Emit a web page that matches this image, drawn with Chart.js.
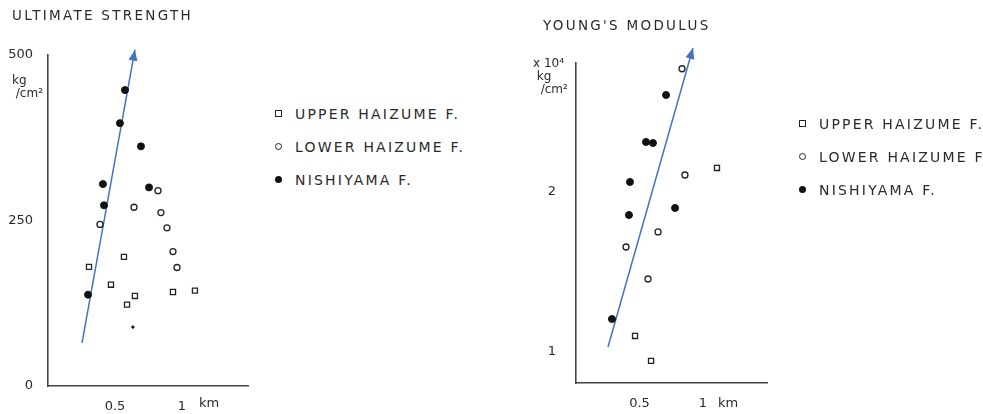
<!DOCTYPE html>
<html lang="en">
<head>
<meta charset="UTF-8">
<title>Ultimate strength / Young's modulus</title>
<script src="https://cdn.jsdelivr.net/npm/chart.js@4.4.1/dist/chart.umd.min.js"></script>
<style>
    body { margin: 0; background: #fff; width: 983px; height: 414px; position: relative; overflow: hidden;
           font-family: "DejaVu Sans", sans-serif; color: #2a2a2a; }
    canvas { position: absolute; top: 0; }
    .txt { position: absolute; white-space: nowrap; }
    .title { font-size: 13.5px; letter-spacing: 2.3px; }
    .unit { font-size: 12px; line-height: 13px; }
    .legend { position: absolute; font-size: 14px; letter-spacing: 2.2px; white-space: nowrap; }
    .legend div { height: 33px; display: flex; align-items: center; white-space: nowrap; }
    .mk { display: inline-block; box-sizing: border-box; margin-right: 13px; flex: none; }
    .sq { width: 7px; height: 7px; border: 1.4px solid #222; }
    .oc { width: 7px; height: 7px; border: 1.4px solid #222; border-radius: 50%; }
    .fc { width: 7px; height: 7px; background: #111; border-radius: 50%; }
</style>
</head>
<body>
<canvas id="strength" width="260" height="414" style="left:0;width:260px;height:414px"></canvas>
<canvas id="modulus" width="483" height="414" style="left:500px;width:483px;height:414px"></canvas>

<!-- titulos y unidades -->
<div class="txt title" style="left:12px;top:7px">ULTIMATE STRENGTH</div>
<div class="txt title" style="left:543px;top:17px">YOUNG'S MODULUS</div>
<div class="txt unit" style="left:12px;top:74px">kg<br>&nbsp;/cm²</div>
<div class="txt unit" style="left:533px;top:57px">x 10⁴<br>&nbsp;kg<br>&nbsp;&nbsp;/cm²</div>
<div class="txt unit" style="left:199px;top:396px;font-size:13px">km</div>
<div class="txt unit" style="left:718px;top:396px;font-size:13px">km</div>

<!-- leyendas -->
<div class="legend" style="left:275px;top:97px">
    <div><span class="mk sq"></span>UPPER HAIZUME F.</div>
    <div><span class="mk oc"></span>LOWER HAIZUME F.</div>
    <div><span class="mk fc"></span>NISHIYAMA F.</div>
</div>
<div class="legend" style="left:799px;top:107px">
    <div><span class="mk sq"></span>UPPER HAIZUME F.</div>
    <div><span class="mk oc"></span>LOWER HAIZUME F.</div>
    <div><span class="mk fc"></span>NISHIYAMA F.</div>
</div>

<script>
    // datos: distancia (km) y valor
    const strengthUpperKm = [0.567, 0.306, 0.470, 0.649, 0.590, 0.933, 1.097];
    const strengthUpper   = [195, 180, 153, 136, 123, 142, 144];
    const strengthLowerKm = [0.821, 0.642, 0.843, 0.388, 0.888, 0.933, 0.963];
    const strengthLower   = [295, 270, 262, 244, 239, 203, 179];
    const strengthNishiKm = [0.575, 0.537, 0.694, 0.410, 0.754, 0.418, 0.299, 0.634];
    const strengthNishi   = [447, 397, 362, 305, 300, 273, 138, 89];
    const strengthTrendKm = [0.254, 0.649];
    const strengthTrend   = [65, 508];
    const strengthTicks   = [0, 250, 500];

    const modulusUpperKm = [1.110, 0.465, 0.591];
    const modulusUpper   = [2.15, 1.10, 0.944];
    const modulusLowerKm = [0.835, 0.858, 0.646, 0.394, 0.567];
    const modulusLower   = [2.77, 2.106, 1.75, 1.656, 1.456];
    const modulusNishiKm = [0.709, 0.551, 0.606, 0.425, 0.417, 0.780, 0.283];
    const modulusNishi   = [2.606, 2.3125, 2.306, 2.0625, 1.856, 1.90, 1.206];
    const modulusTrendKm = [0.252, 0.921];
    const modulusTrend   = [1.031, 2.90];
    const modulusTicks   = [1, 2];

    const kmTicks = [0.5, 1];

    const pares = (xs, ys) => xs.map((x, i) => ({ x: x, y: ys[i] }));

    // punta de flecha al final de la linea azul
    const flecha = {
        id: 'flecha',
        afterDatasetsDraw(chart) {
            chart.data.datasets.forEach((ds, i) => {
                if (!ds.arrow) return;
                const pts = chart.getDatasetMeta(i).data;
                const a = pts[pts.length - 2], b = pts[pts.length - 1];
                const ang = Math.atan2(b.y - a.y, b.x - a.x);
                const ctx = chart.ctx;
                ctx.save();
                ctx.translate(b.x, b.y);
                ctx.rotate(ang);
                ctx.fillStyle = ds.borderColor;
                ctx.beginPath();
                ctx.moveTo(0, 0);
                ctx.lineTo(-11, -4.5);
                ctx.lineTo(-11, 4.5);
                ctx.closePath();
                ctx.fill();
                ctx.restore();
            });
        }
    };

    Chart.defaults.font.family = "'DejaVu Sans', sans-serif";
    Chart.defaults.color = '#2a2a2a';

    function crear(id, d, o) {
        new Chart(document.getElementById(id), {
            type: 'scatter',
            data: {
                datasets: [
                    {
                        label: 'UPPER HAIZUME F.',
                        data: pares(d.upperKm, d.upper),
                        pointStyle: 'rect',
                        pointRadius: 3.6,
                        backgroundColor: '#fff',
                        borderColor: '#222',
                        borderWidth: 1.3
                    },
                    {
                        label: 'LOWER HAIZUME F.',
                        data: pares(d.lowerKm, d.lower),
                        pointStyle: 'circle',
                        pointRadius: 3,
                        backgroundColor: '#fff',
                        borderColor: '#222',
                        borderWidth: 1.3
                    },
                    {
                        label: 'NISHIYAMA F.',
                        data: pares(d.nishiKm, d.nishi),
                        pointStyle: 'circle',
                        pointRadius: d.nishiRadius,
                        backgroundColor: '#111',
                        borderColor: '#111',
                        borderWidth: 1
                    },
                    {
                        label: 'trend',
                        type: 'line',
                        data: pares(d.trendKm, d.trend),
                        borderColor: '#4472C4',
                        borderWidth: 1.5,
                        pointRadius: 0,
                        clip: false,
                        arrow: true
                    }
                ]
            },
            options: {
                responsive: false,
                animation: false,
                layout: { padding: { top: o.top, right: o.right, left: 0, bottom: 0 } },
                plugins: { legend: { display: false }, tooltip: { enabled: false } },
                scales: {
                    x: {
                        type: 'linear',
                        min: 0,
                        max: o.xMax,
                        afterFit: s => { s.height = o.xHeight; },
                        afterBuildTicks: s => { s.ticks = kmTicks.map(v => ({ value: v })); },
                        ticks: { font: { size: 13 }, padding: 5, callback: v => String(v) },
                        grid: { display: false },
                        border: { color: '#444', width: 1.6 }
                    },
                    y: {
                        type: 'linear',
                        min: o.yMin,
                        max: o.yMax,
                        afterFit: s => { s.width = o.yWidth; },
                        afterBuildTicks: s => { s.ticks = d.ticks.map(v => ({ value: v })); },
                        ticks: { font: { size: 13 }, padding: o.yPad, callback: v => String(v) },
                        grid: { display: false },
                        border: { color: '#444', width: 1.6 }
                    }
                }
            },
            plugins: [flecha]
        });
    }

    crear('strength', {
        upperKm: strengthUpperKm, upper: strengthUpper,
        lowerKm: strengthLowerKm, lower: strengthLower,
        nishiKm: strengthNishiKm, nishi: strengthNishi,
        nishiRadius: [3.5, 3.5, 3.5, 3.5, 3.5, 3.5, 3.5, 1.2],
        trendKm: strengthTrendKm, trend: strengthTrend,
        ticks: strengthTicks
    }, { top: 55, right: 12, xHeight: 28, yWidth: 48, yPad: 7, xMax: 1.493, yMin: 0, yMax: 500 });

    crear('modulus', {
        upperKm: modulusUpperKm, upper: modulusUpper,
        lowerKm: modulusLowerKm, lower: modulusLower,
        nishiKm: modulusNishiKm, nishi: modulusNishi,
        nishiRadius: 3.5,
        trendKm: modulusTrendKm, trend: modulusTrend,
        ticks: modulusTicks
    }, { top: 63, right: 216, xHeight: 31, yWidth: 76, yPad: 12, xMax: 1.504, yMin: 0.806, yMax: 2.806 });
</script>
</body>
</html>
